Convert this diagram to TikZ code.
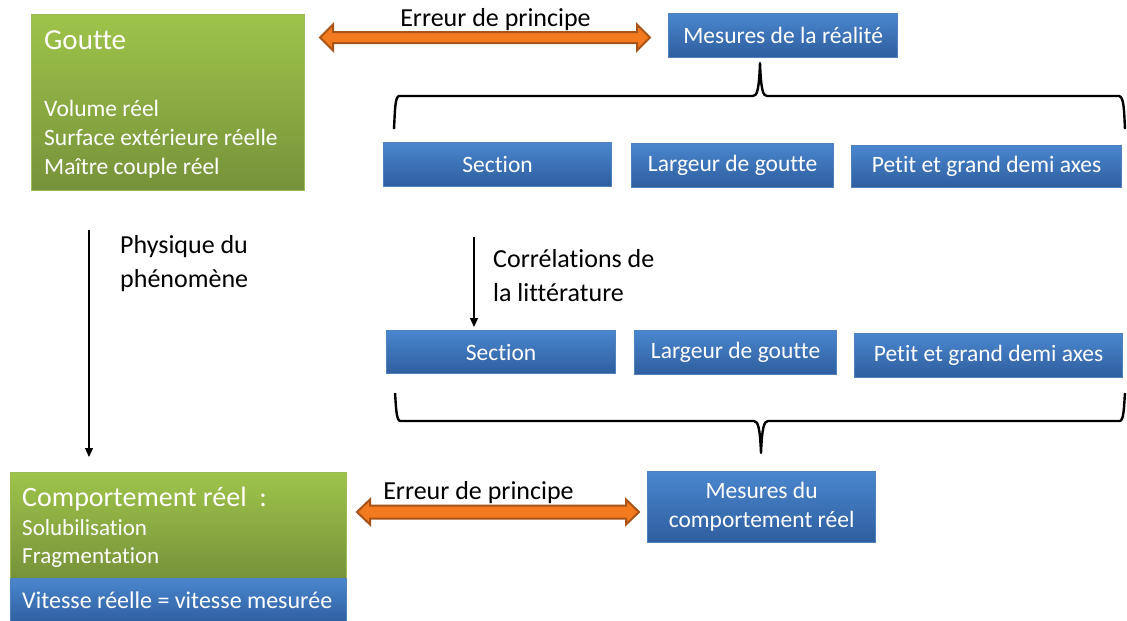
\documentclass[tikz,border=0pt]{standalone}
\usepackage{fontspec}
\setmainfont{Carlito}[Ligatures=NoCommon]
\usetikzlibrary{calc,arrows.meta}
\definecolor{bluetop}{RGB}{74,134,206}
\definecolor{bluebot}{RGB}{46,94,158}
\definecolor{blueborder}{RGB}{79,129,189}
\definecolor{greentop}{RGB}{158,196,74}
\definecolor{greenbot}{RGB}{118,146,58}
\definecolor{greenborder}{RGB}{155,187,89}
\definecolor{orangefill}{RGB}{244,122,32}
\definecolor{orangeedge}{RGB}{168,84,22}
\newcommand\myOrangeArrow[4]{% left tip, right tip, head half, shaft half
  \draw[orangearrow] (#1) -- ++(13,-#3) -- ++(0,#3-#4) -- ($(#2)+(-13,-#4)$) -- ++(0,#4-#3) -- (#2)
    -- ++(-13,#3) -- ++(0,#4-#3) -- ($(#1)+(13,#4)$) -- ++(0,#3-#4) -- cycle;}
\begin{document}
\begin{tikzpicture}[x=1pt,y=-1pt,
  bluebox/.style={draw=blueborder, line width=1.2pt, top color=bluetop, bottom color=bluebot,
    text=white, inner sep=0pt, anchor=north west, font=\fontsize{23.5}{29}\selectfont, align=center},
  greenbox/.style={draw=greenborder, line width=1.2pt, top color=greentop, bottom color=greenbot,
    inner sep=0pt, anchor=north west},
  whitetext/.style={text=white, inner sep=0pt, anchor=base west, font=\fontsize{23.5}{29}\selectfont},
  blacklabel/.style={text=black, inner sep=0pt, anchor=base west, font=\fontsize{26}{30}\selectfont},
  thinarrow/.style={line width=1.3pt, -{Triangle[length=9pt,width=8pt]}},
  bracepath/.style={line width=2.4pt, line join=round},
  orangearrow/.style={fill=orangefill, draw=orangeedge, line width=2pt, line join=miter}]
\useasboundingbox (0,0) rectangle (1127,621);
\fill[white] (0,0) rectangle (1127,621);

% Goutte box
\node[greenbox, minimum width=273pt, minimum height=176pt] (goutte) at (31,14) {};
\node[whitetext, font=\fontsize{29}{34}\selectfont] (gtitle) at (44,49) {Goutte};
\node[whitetext] (g1) at (44,116) {Volume réel};
\node[whitetext] (g2) at (44,145) {Surface extérieure réelle};
\node[whitetext] (g3) at (44,174) {Maître couple réel};

% Mesures de la realite
\node[bluebox, minimum width=229pt, minimum height=44pt] (mreal) at (668,13) {Mesures de la réalité};

% top orange arrow
\coordinate (ta1) at (320,37.5);
\coordinate (ta2) at (650,37.5);
\myOrangeArrow{ta1}{ta2}{13}{5.5}
\node[blacklabel, anchor=base] (tlabel) at (495.5,27) {Erreur de principe};

% row 1
\node[bluebox, minimum width=228pt, minimum height=44pt] (s1) at (383,142) {Section};
\node[bluebox, minimum width=202pt, minimum height=44pt] (l1) at (631,143) {Largeur de goutte};
\node[bluebox, minimum width=270pt, minimum height=42pt] (p1) at (851,145) {Petit et grand demi axes};

% top brace
\coordinate (tb1) at (394,129);
\coordinate (tbpk) at (760,63);
\coordinate (tb2) at (1125,129);
\draw[bracepath] (tb1) .. controls (395,110) and (395,97) .. (399,96) -- (753,96)
  .. controls (757,96) and (759,90) .. (tbpk) .. controls (761,90) and (763,96) .. (767,96)
  -- (1119,96) .. controls (1124,97) and (1124,110) .. (tb2);

% left arrow
\coordinate (la1) at (89,230);
\coordinate (la2) at (89,457);
\draw[thinarrow] (la1) -- (la2);
\node[blacklabel] (phys1) at (120,253) {Physique du};
\node[blacklabel] (phys2) at (120,287) {phénomène};

% middle arrow
\coordinate (ma1) at (474,237);
\coordinate (ma2) at (474,327);
\draw[thinarrow] (ma1) -- (ma2);
\node[blacklabel] (corr1) at (493,267) {Corrélations de};
\node[blacklabel] (corr2) at (493,301) {la littérature};

% row 2
\node[bluebox, minimum width=229pt, minimum height=43pt] (s2) at (386,330) {Section};
\node[bluebox, minimum width=202pt, minimum height=44pt] (l2) at (634,330) {Largeur de goutte};
\node[bluebox, minimum width=268pt, minimum height=44pt] (p2) at (854,333) {Petit et grand demi axes};

% bottom brace
\coordinate (bb1) at (395,393);
\coordinate (bbpk) at (761,453);
\coordinate (bb2) at (1125,393);
\draw[bracepath] (bb1) .. controls (396,405) and (396,420) .. (400,421) -- (754,421)
  .. controls (758,421) and (760,428) .. (bbpk) .. controls (762,428) and (764,421) .. (768,421)
  -- (1120,421) .. controls (1124,420) and (1124,405) .. (bb2);

% bottom left boxes
\node[greenbox, minimum width=336pt, minimum height=106pt] (comp) at (10,472) {};
\node[whitetext, font=\fontsize{28}{32}\selectfont] (ctitle) at (22,506) {Comportement réel\ \ :};
\node[whitetext, font=\fontsize{23}{29}\selectfont] (c1) at (22,535) {Solubilisation};
\node[whitetext, font=\fontsize{23}{29}\selectfont] (c2) at (22,563) {Fragmentation};
\node[bluebox, minimum width=336pt, minimum height=46pt] (vit) at (10,578) {};
\node[whitetext, font=\fontsize{24}{29}\selectfont] (vtext) at (22,608) {Vitesse réelle = vitesse mesurée};

% bottom orange arrow
\coordinate (ba1) at (357,512);
\coordinate (ba2) at (639,512);
\myOrangeArrow{ba1}{ba2}{12.5}{6.5}
\node[blacklabel, anchor=base] (blabel) at (478.5,499) {Erreur de principe};

% Mesures du comportement reel
\node[bluebox, minimum width=228pt, minimum height=71pt] (mcomp) at (647,471) {Mesures du\\comportement réel};
\end{tikzpicture}
\end{document}
